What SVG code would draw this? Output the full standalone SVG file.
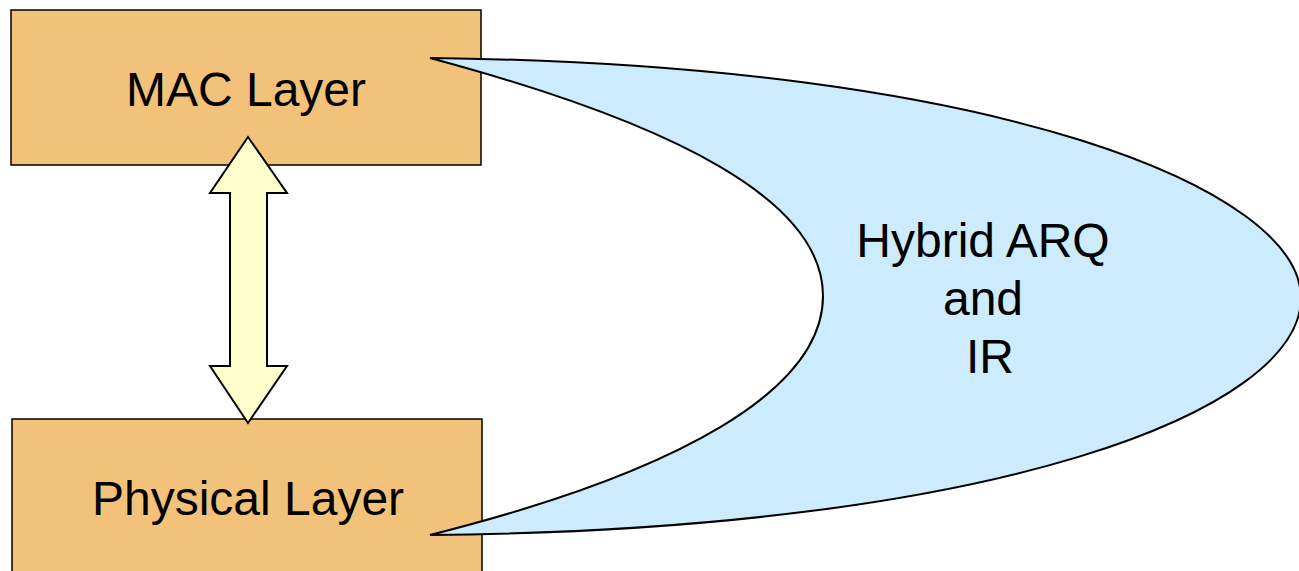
<svg xmlns="http://www.w3.org/2000/svg" width="1299" height="571" viewBox="0 0 1299 571">
<style>
.box{fill:#F3C27A;stroke:#000;stroke-width:1.5}
.t{font-family:"Liberation Sans",Arial,sans-serif;font-size:48px;fill:#000;text-anchor:middle}
</style>
<rect width="1299" height="571" fill="#fff"/>
<g id="mac"><rect class="box" x="11" y="10" width="470" height="155"/><text class="t" x="246" y="106">MAC Layer</text></g>
<g id="phy"><rect class="box" x="12" y="419" width="470" height="170"/><text class="t" x="248" y="515">Physical Layer</text></g>
<g id="connectors">
<path d="M248,137 L287,193 L267,193 L267,366 L287,366 L248,423 L210,366 L230,366 L230,193 L210,193 Z" fill="#FFFFCC" stroke="#000" stroke-width="2" stroke-linejoin="miter"/>
</g>
<g id="harq">
<path d="M430,58 C1000,64 1301,190 1301,298 C1301,410 1000,530 430,535 C680,472 823,390 823,296 C823,202 680,125 430,58 Z" fill="#CCEBFD" stroke="#000" stroke-width="2"/>
<text class="t" x="983" y="257">Hybrid ARQ</text>
<text class="t" x="983" y="315">and</text>
<text class="t" x="990" y="373">IR</text>
</g>
</svg>
